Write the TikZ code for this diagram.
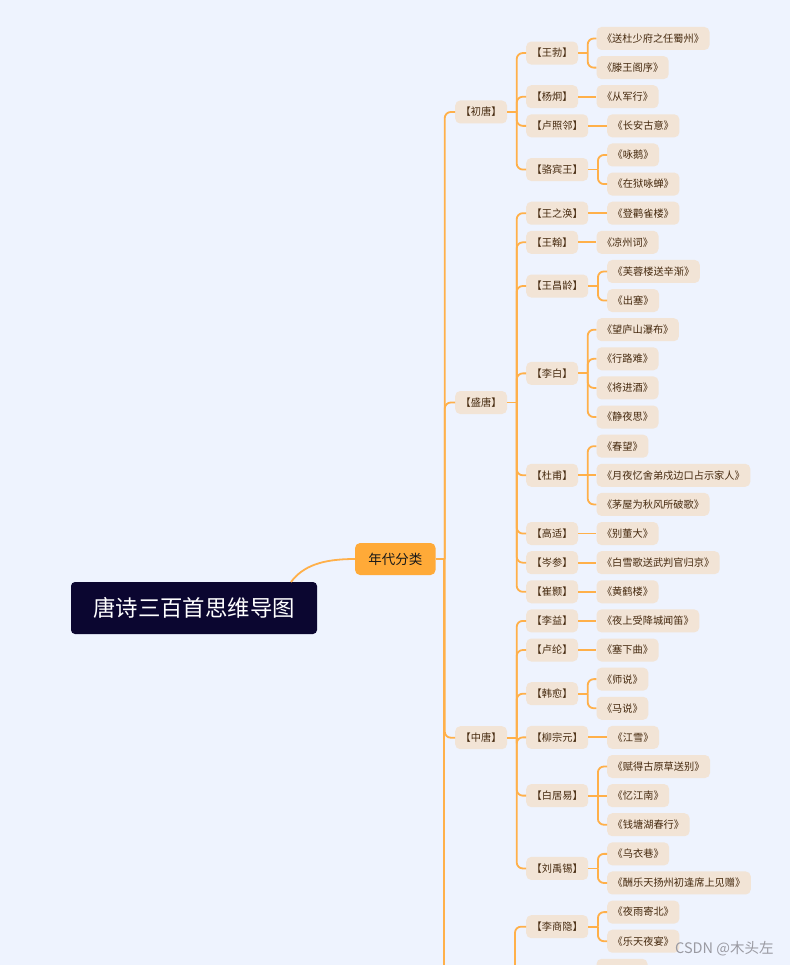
\documentclass[tikz,border=0pt]{standalone}
\usepackage{fontspec}
\setmainfont{Noto Sans CJK SC}
\usetikzlibrary{calc}
\definecolor{bgc}{HTML}{EEF3FE}
\definecolor{nodef}{HTML}{F2E4D6}
\definecolor{txtc}{HTML}{45290E}
\definecolor{lnc}{HTML}{FFB04A}
\definecolor{ydf}{HTML}{FFAA38}
\definecolor{rootf}{HTML}{0B0630}
\definecolor{wmc}{HTML}{9A9AA2}
\newcommand\ry[1]{38.5+29.12*#1}
\newcommand\br[3]{%
  \draw[ln] (#1.east) -- ++(#3,0) coordinate (tmpc);
  \draw[ln,rounded corners=6pt] (tmpc) |- (#2.west);}
\newcommand\st[2]{\draw[ln] (#1.east) -- (#2.west);}
\tikzset{
  box/.style={fill=nodef, rounded corners=5pt, text=txtc,
    font=\fontsize{10.2}{12}\selectfont, inner xsep=5.5pt, inner ysep=0pt,
    minimum height=23pt, anchor=west},
  ln/.style={draw=lnc, line width=1.8pt},
  rootbox/.style={fill=rootf, rounded corners=4pt, text=white,
    font=\fontsize{22.4}{26}\selectfont, minimum width=246pt, minimum height=52pt, inner sep=0pt},
  ydbox/.style={fill=ydf, rounded corners=5pt, text=black!90,
    font=\fontsize{13.5}{16}\selectfont, minimum width=80.5pt, minimum height=32pt, inner sep=0pt},
  wm/.style={text=wmc, font=\fontsize{14.5}{17}\selectfont, inner sep=0pt}
}
\begin{document}
\begin{tikzpicture}[x=1pt,y=-1pt]
\useasboundingbox (0,0) rectangle (790,965);
\clip (0,0) rectangle (790,965);
\fill[bgc] (0,0) rectangle (790,965);

% root and category
\node[rootbox] (root) at (194,608) {唐诗三百首思维导图};
\node[ydbox] (yd) at (395.3,559) {年代分类};
\coordinate (rs) at (291,582);
\draw[ln] (rs) .. controls (303,566) and (322,559) .. (yd.west);

% dynasties
\node[box] (cs) at (455,112) {【初唐】};
\node[box] (ss) at (455,402.5) {【盛唐】};
\node[box] (zs) at (455,737.7) {【中唐】};

% authors
\node[box] (a1) at (526,{\ry{0.5}}) {【王勃】};
\node[box] (a2) at (526,{\ry{2}}) {【杨炯】};
\node[box] (a3) at (526,{\ry{3}}) {【卢照邻】};
\node[box] (a4) at (526,{\ry{4.5}}) {【骆宾王】};
\node[box] (a5) at (526,{\ry{6}}) {【王之涣】};
\node[box] (a6) at (526,{\ry{7}}) {【王翰】};
\node[box] (a7) at (526,{\ry{8.5}}) {【王昌龄】};
\node[box] (a8) at (526,{\ry{11.5}}) {【李白】};
\node[box] (a9) at (526,{\ry{15}}) {【杜甫】};
\node[box] (a10) at (526,{\ry{17}}) {【高适】};
\node[box] (a11) at (526,{\ry{18}}) {【岑参】};
\node[box] (a12) at (526,{\ry{19}}) {【崔颢】};
\node[box] (a13) at (526,{\ry{20}}) {【李益】};
\node[box] (a14) at (526,{\ry{21}}) {【卢纶】};
\node[box] (a15) at (526,{\ry{22.5}}) {【韩愈】};
\node[box] (a16) at (526,{\ry{24}}) {【柳宗元】};
\node[box] (a17) at (526,{\ry{26}}) {【白居易】};
\node[box] (a18) at (526,{\ry{28.5}}) {【刘禹锡】};
\node[box] (a19) at (526,{\ry{30.5}}) {【李商隐】};

% poems
\node[box] (p0) at (596.3,{\ry{0}}) {《送杜少府之任蜀州》};
\node[box] (p1) at (596.3,{\ry{1}}) {《滕王阁序》};
\node[box] (p2) at (596.3,{\ry{2}}) {《从军行》};
\node[box] (p3) at (607,{\ry{3}}) {《长安古意》};
\node[box] (p4) at (607,{\ry{4}}) {《咏鹅》};
\node[box] (p5) at (607,{\ry{5}}) {《在狱咏蝉》};
\node[box] (p6) at (607,{\ry{6}}) {《登鹳雀楼》};
\node[box] (p7) at (596.3,{\ry{7}}) {《凉州词》};
\node[box] (p8) at (607,{\ry{8}}) {《芙蓉楼送辛渐》};
\node[box] (p9) at (607,{\ry{9}}) {《出塞》};
\node[box] (p10) at (596.3,{\ry{10}}) {《望庐山瀑布》};
\node[box] (p11) at (596.3,{\ry{11}}) {《行路难》};
\node[box] (p12) at (596.3,{\ry{12}}) {《将进酒》};
\node[box] (p13) at (596.3,{\ry{13}}) {《静夜思》};
\node[box] (p14) at (596.3,{\ry{14}}) {《春望》};
\node[box] (p15) at (596.3,{\ry{15}}) {《月夜忆舍弟戍边口占示家人》};
\node[box] (p16) at (596.3,{\ry{16}}) {《茅屋为秋风所破歌》};
\node[box] (p17) at (596.3,{\ry{17}}) {《别董大》};
\node[box] (p18) at (596.3,{\ry{18}}) {《白雪歌送武判官归京》};
\node[box] (p19) at (596.3,{\ry{19}}) {《黄鹤楼》};
\node[box] (p20) at (596.3,{\ry{20}}) {《夜上受降城闻笛》};
\node[box] (p21) at (596.3,{\ry{21}}) {《塞下曲》};
\node[box] (p22) at (596.3,{\ry{22}}) {《师说》};
\node[box] (p23) at (596.3,{\ry{23}}) {《马说》};
\node[box] (p24) at (607,{\ry{24}}) {《江雪》};
\node[box] (p25) at (607,{\ry{25}}) {《赋得古原草送别》};
\node[box] (p26) at (607,{\ry{26}}) {《忆江南》};
\node[box] (p27) at (607,{\ry{27}}) {《钱塘湖春行》};
\node[box] (p28) at (607,{\ry{28}}) {《乌衣巷》};
\node[box] (p29) at (607,{\ry{29}}) {《酬乐天扬州初逢席上见赠》};
\node[box] (p30) at (607,{\ry{30}}) {《夜雨寄北》};
\node[box] (p31) at (607,{\ry{31}}) {《乐天夜宴》};
\node[box, minimum width=51pt] (p32) at (596.3,{\ry{32}}) {};

% category -> dynasties
\br{yd}{cs}{9}
\br{yd}{ss}{9}
\br{yd}{zs}{9}
\coordinate (off0) at (444.3,990);
\draw[ln] (yd.east) -- (yd.east -| off0) -- (off0);

% dynasties -> authors
\br{cs}{a1}{9.5} \br{cs}{a2}{9.5} \br{cs}{a3}{9.5} \br{cs}{a4}{9.5}
\br{ss}{a5}{9.5} \br{ss}{a6}{9.5} \br{ss}{a7}{9.5} \br{ss}{a8}{9.5}
\br{ss}{a9}{9.5} \br{ss}{a10}{9.5} \br{ss}{a11}{9.5} \br{ss}{a12}{9.5}
\br{zs}{a13}{9.5} \br{zs}{a14}{9.5} \br{zs}{a15}{9.5} \br{zs}{a16}{9.5}
\br{zs}{a17}{9.5} \br{zs}{a18}{9.5}
\coordinate (off1) at (515,990);
\draw[ln,rounded corners=6pt] (off1) |- (a19.west);

% authors -> poems
\br{a1}{p0}{9.5} \br{a1}{p1}{9.5}
\st{a2}{p2}
\st{a3}{p3}
\br{a4}{p4}{9.5} \br{a4}{p5}{9.5}
\st{a5}{p6}
\st{a6}{p7}
\br{a7}{p8}{9.5} \br{a7}{p9}{9.5}
\br{a8}{p10}{9.5} \br{a8}{p11}{9.5} \br{a8}{p12}{9.5} \br{a8}{p13}{9.5}
\br{a9}{p14}{9.5} \st{a9}{p15} \br{a9}{p16}{9.5}
\st{a10}{p17}
\st{a11}{p18}
\st{a12}{p19}
\st{a13}{p20}
\st{a14}{p21}
\br{a15}{p22}{9.5} \br{a15}{p23}{9.5}
\st{a16}{p24}
\br{a17}{p25}{9.5} \st{a17}{p26} \br{a17}{p27}{9.5}
\br{a18}{p28}{9.5} \br{a18}{p29}{9.5}
\br{a19}{p30}{9.5} \br{a19}{p31}{9.5}

% watermark
\node[wm, anchor=west] (wmk) at (675,949) {CSDN @木头左};
\end{tikzpicture}
\end{document}
